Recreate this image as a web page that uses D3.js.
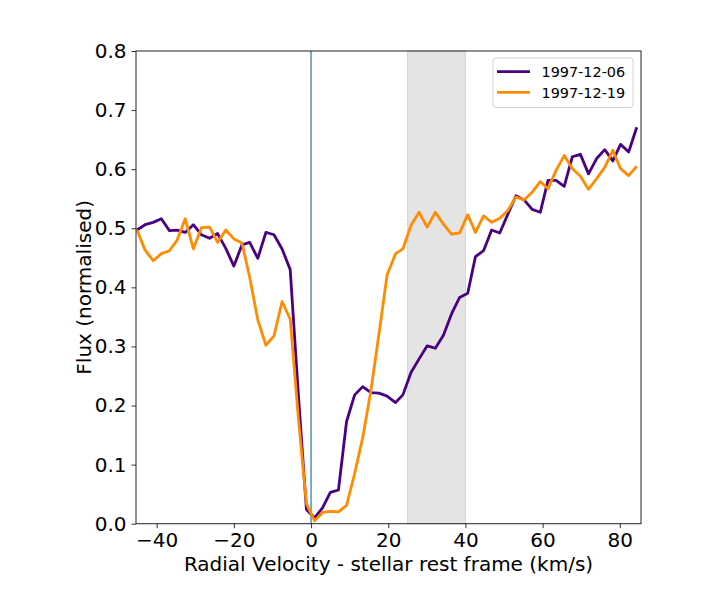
<!DOCTYPE html>
<html>
<head>
<meta charset="utf-8">
<script src="https://cdn.jsdelivr.net/npm/d3@7"></script>
<style>
  body { margin: 0; background: white; }
  svg text { font-family: "DejaVu Sans", sans-serif; }
</style>
</head>
<body>
<div id="chart"></div>
<script>

// radial velocity grid (km/s)
var velocity = [-45.1, -43.0, -40.9, -38.8, -36.7, -34.7, -32.6, -30.5, -28.4, -26.3,
  -24.2, -22.1, -20.0, -17.9, -15.9, -13.8, -11.7, -9.6, -7.5, -5.4,
  -3.3, -1.2, 0.9, 3.0, 5.0, 7.1, 9.2, 11.3, 13.4, 15.5,
  17.6, 19.7, 21.9, 23.8, 25.9, 28.0, 30.1, 32.2, 34.3, 36.4,
  38.5, 40.6, 42.6, 44.7, 46.8, 48.9, 51.0, 53.1, 55.2, 57.3,
  59.4, 61.4, 63.5, 65.6, 67.7, 69.8, 71.9, 74.0, 76.1, 78.2,
  80.2, 82.3, 84.4]

var flux0612 = [0.497, 0.506, 0.510, 0.516, 0.496, 0.497, 0.493, 0.506, 0.489, 0.483,
  0.491, 0.466, 0.436, 0.472, 0.476, 0.449, 0.493, 0.489, 0.465, 0.430,
  0.220, 0.024, 0.010, 0.027, 0.053, 0.057, 0.173, 0.218, 0.232, 0.222,
  0.221, 0.216, 0.205, 0.218, 0.256, 0.279, 0.301, 0.297, 0.319, 0.355,
  0.383, 0.390, 0.452, 0.462, 0.497, 0.492, 0.524, 0.555, 0.548, 0.532,
  0.527, 0.581, 0.581, 0.571, 0.621, 0.625, 0.592, 0.618, 0.633, 0.614,
  0.642, 0.629, 0.671]

var flux1219 = [0.497, 0.463, 0.445, 0.457, 0.462, 0.480, 0.516, 0.465, 0.501, 0.502,
  0.476, 0.497, 0.482, 0.475, 0.417, 0.345, 0.302, 0.318, 0.376, 0.346,
  0.180, 0.034, 0.005, 0.019, 0.021, 0.020, 0.031, 0.085, 0.146, 0.225,
  0.321, 0.421, 0.457, 0.465, 0.505, 0.527, 0.502, 0.527, 0.507, 0.490,
  0.492, 0.523, 0.493, 0.521, 0.510, 0.517, 0.530, 0.553, 0.548, 0.561,
  0.579, 0.567, 0.598, 0.623, 0.601, 0.588, 0.566, 0.584, 0.603, 0.632,
  0.601, 0.589, 0.605]

var seriesNames = ["1997-12-06", "1997-12-19"]
var seriesColors = ["#4b0082", "#ff8c00"]

var xTicks = [-40, -20, 0, 20, 40, 60, 80]
var yTicks = [0.0, 0.1, 0.2, 0.3, 0.4, 0.5, 0.6, 0.7, 0.8]
var bandRange = [25, 40]
var restLine = 0

var width = 713, height = 613
var margin = {top: 51, right: 72, bottom: 90, left: 136}

var svg = d3.select("#chart").append("svg")
  .attr("width", width)
  .attr("height", height)

var x = d3.scaleLinear()
  .domain([-45.36, 85.5])
  .range([margin.left, width - margin.right])

var y = d3.scaleLinear()
  .domain([0, 0.8])
  .range([height - margin.bottom + 0.7, margin.top])

// grey velocity band
svg.append("rect")
  .attr("x", x(bandRange[0]))
  .attr("y", margin.top)
  .attr("width", x(bandRange[1]) - x(bandRange[0]))
  .attr("height", y(0) - margin.top)
  .attr("fill", "#e4e4e4")
  .attr("stroke", "#d6d6d6")
  .attr("stroke-width", 1)

// stellar rest frame
svg.append("line")
  .attr("x1", x(restLine))
  .attr("x2", x(restLine))
  .attr("y1", margin.top)
  .attr("y2", y(0))
  .attr("stroke", "#1f77b4")
  .attr("stroke-width", 1.2)

var line = d3.line()
  .x(function(d, i) { return x(velocity[i]) })
  .y(function(d) { return y(d) })

var allSeries = [flux0612, flux1219]

svg.selectAll(".specLine")
  .data(allSeries)
  .enter().append("path")
  .attr("class", "specLine")
  .attr("d", line)
  .attr("fill", "none")
  .attr("stroke", function(d, i) { return seriesColors[i] })
  .attr("stroke-width", 2.8)
  .attr("stroke-linejoin", "round")

var xAxis = svg.append("g")
  .attr("transform", `translate(0,${y(0)})`)
  .call(d3.axisBottom(x).tickValues(xTicks).tickSizeOuter(0).tickSize(4.5).tickPadding(5))

var yAxis = svg.append("g")
  .attr("transform", `translate(${margin.left},0)`)
  .call(d3.axisLeft(y).tickValues(yTicks).tickFormat(d3.format(".1f")).tickSizeOuter(0).tickSize(4.5).tickPadding(5))

svg.selectAll(".tick text")
  .style("font-size", "20px")
  .attr("fill", "black")
svg.selectAll(".tick line").attr("stroke", "#333")
svg.selectAll(".domain").remove()

// frame
svg.append("rect")
  .attr("x", margin.left)
  .attr("y", margin.top)
  .attr("width", x.range()[1] - margin.left)
  .attr("height", y(0) - margin.top)
  .attr("fill", "none")
  .attr("stroke", "#222")
  .attr("stroke-width", 1)

svg.append("text")
  .attr("x", (margin.left + x.range()[1]) / 2)
  .attr("y", 571)
  .attr("text-anchor", "middle")
  .style("font-size", "20px")
  .text("Radial Velocity - stellar rest frame (km/s)")

svg.append("text")
  .attr("transform", `translate(91,${(margin.top + y(0)) / 2}) rotate(-90)`)
  .attr("text-anchor", "middle")
  .style("font-size", "20px")
  .text("Flux (normalised)")

// legend
var legend = svg.append("g")
  .attr("transform", "translate(493,58)")

legend.append("rect")
  .attr("width", 140)
  .attr("height", 49.5)
  .attr("rx", 3)
  .attr("fill", "white")
  .attr("fill-opacity", 0.8)
  .attr("stroke", "#d0d0d0")

var legItem = legend.selectAll(".legItem")
  .data(seriesNames)
  .enter().append("g")
  .attr("class", "legItem")
  .attr("transform", function(d, i) { return `translate(0,${13.7 + i * 20.6})` })

legItem.append("line")
  .attr("x1", 4)
  .attr("x2", 37)
  .attr("stroke", function(d, i) { return seriesColors[i] })
  .attr("stroke-width", 2.8)

legItem.append("text")
  .attr("x", 48.5)
  .attr("y", 5.2)
  .style("font-size", "14.4px")
  .text(function(d) { return d })

</script>
</body>
</html>
